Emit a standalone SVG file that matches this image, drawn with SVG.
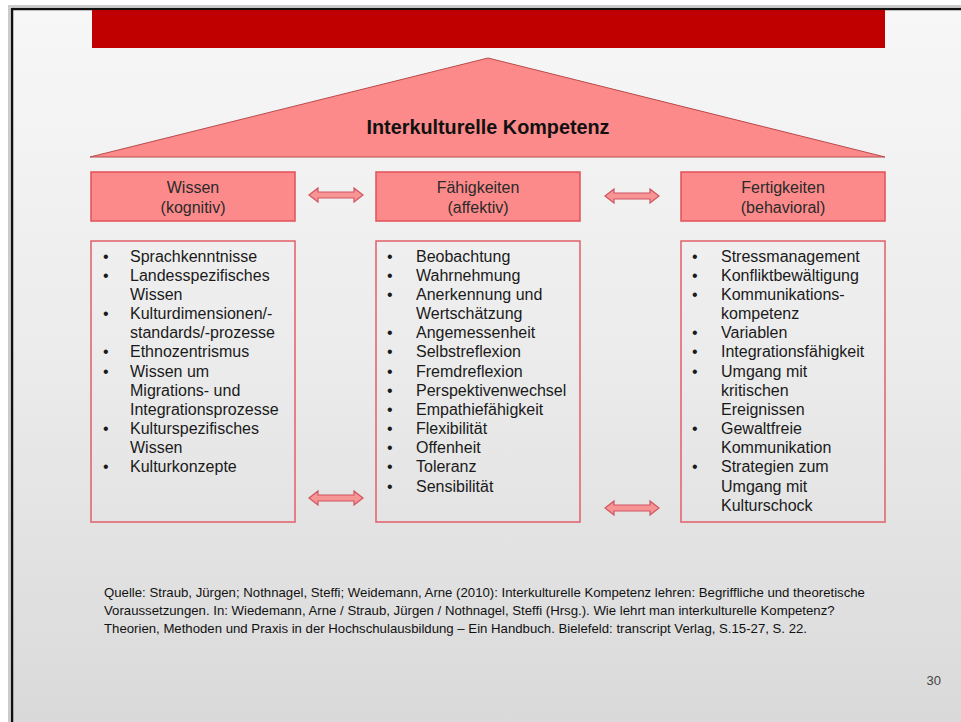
<svg xmlns="http://www.w3.org/2000/svg" width="961" height="722" viewBox="0 0 961 722">
<defs>
<linearGradient id="bg" x1="0" y1="0" x2="0" y2="1">
<stop offset="0" stop-color="#f7f7f7"/>
<stop offset="0.5" stop-color="#ebebeb"/>
<stop offset="1" stop-color="#d9d9d9"/>
</linearGradient>
<path id="dblarrow" d="M0,0 L9,-7 L9,-3 L45,-3 L45,-7 L54,0 L45,7 L45,3 L9,3 L9,7 Z"/>
</defs>
<style>
.head{fill:#fd8a8a;stroke:#e0505a;stroke-width:1.5}
.list{fill:none;stroke:#e06068;stroke-width:1.5}
.ht{font-family:"Liberation Sans",Arial,sans-serif;font-size:16px;fill:#2a2a2a;text-anchor:middle}
.lt{font-family:"Liberation Sans",Arial,sans-serif;font-size:16px;fill:#1a1a1a}
.src{font-family:"Liberation Sans",Arial,sans-serif;font-size:13.2px;fill:#111}
.arr{fill:#f79595;stroke:#d05560;stroke-width:1.2}
</style>
<rect x="0" y="0" width="961" height="722" fill="#ffffff"/>
<rect x="12" y="9" width="960" height="720" fill="url(#bg)"/>
<path d="M12,722 L12,9 L961,9" fill="none" stroke="#111" stroke-width="2.5"/>
<path d="M9,722 L9,6 L961,6" fill="none" stroke="#bbb" stroke-width="1.5"/>
<rect x="92" y="10" width="793" height="38" fill="#c00000"/>

<g id="roof">
<polygon points="488,58 885,157 90,157" fill="#fd8a8a" stroke="#b84a4a" stroke-width="1"/>
<text x="488" y="134" font-family="'Liberation Sans',Arial,sans-serif" font-size="20" font-weight="bold" fill="#111" text-anchor="middle" textLength="243" lengthAdjust="spacingAndGlyphs">Interkulturelle Kompetenz</text>
</g>

<g id="wissen-head">
<rect class="head" x="91" y="172" width="204" height="49"/>
<text class="ht" x="193" y="193">Wissen</text>
<text class="ht" x="193" y="213">(kognitiv)</text>
</g>
<g id="faehigkeiten-head">
<rect class="head" x="376" y="172" width="204" height="49"/>
<text class="ht" x="478" y="193">Fähigkeiten</text>
<text class="ht" x="478" y="213">(affektiv)</text>
</g>
<g id="fertigkeiten-head">
<rect class="head" x="681" y="172" width="204" height="49"/>
<text class="ht" x="783" y="193">Fertigkeiten</text>
<text class="ht" x="783" y="213">(behavioral)</text>
</g>

<g id="wissen-list">
<rect class="list" x="91" y="241" width="204" height="281"/>
<text class="lt">
<tspan x="103" y="262">•</tspan><tspan x="130" y="262">Sprachkenntnisse</tspan>
<tspan x="103" y="281">•</tspan><tspan x="130" y="281">Landesspezifisches</tspan>
<tspan x="130" y="300">Wissen</tspan>
<tspan x="103" y="319">•</tspan><tspan x="130" y="319">Kulturdimensionen/-</tspan>
<tspan x="130" y="338">standards/-prozesse</tspan>
<tspan x="103" y="357">•</tspan><tspan x="130" y="357">Ethnozentrismus</tspan>
<tspan x="103" y="377">•</tspan><tspan x="130" y="377">Wissen um</tspan>
<tspan x="130" y="396">Migrations- und</tspan>
<tspan x="130" y="415">Integrationsprozesse</tspan>
<tspan x="103" y="434">•</tspan><tspan x="130" y="434">Kulturspezifisches</tspan>
<tspan x="130" y="453">Wissen</tspan>
<tspan x="103" y="472">•</tspan><tspan x="130" y="472">Kulturkonzepte</tspan>
</text>
</g>
<g id="faehigkeiten-list">
<rect class="list" x="376" y="241" width="204" height="281"/>
<text class="lt">
<tspan x="387" y="262">•</tspan><tspan x="416" y="262">Beobachtung</tspan>
<tspan x="387" y="281">•</tspan><tspan x="416" y="281">Wahrnehmung</tspan>
<tspan x="387" y="300">•</tspan><tspan x="416" y="300">Anerkennung und</tspan>
<tspan x="416" y="319">Wertschätzung</tspan>
<tspan x="387" y="338">•</tspan><tspan x="416" y="338">Angemessenheit</tspan>
<tspan x="387" y="357">•</tspan><tspan x="416" y="357">Selbstreflexion</tspan>
<tspan x="387" y="377">•</tspan><tspan x="416" y="377">Fremdreflexion</tspan>
<tspan x="387" y="396">•</tspan><tspan x="416" y="396">Perspektivenwechsel</tspan>
<tspan x="387" y="415">•</tspan><tspan x="416" y="415">Empathiefähigkeit</tspan>
<tspan x="387" y="434">•</tspan><tspan x="416" y="434">Flexibilität</tspan>
<tspan x="387" y="453">•</tspan><tspan x="416" y="453">Offenheit</tspan>
<tspan x="387" y="472">•</tspan><tspan x="416" y="472">Toleranz</tspan>
<tspan x="387" y="492">•</tspan><tspan x="416" y="492">Sensibilität</tspan>
</text>
</g>
<g id="fertigkeiten-list">
<rect class="list" x="681" y="241" width="204" height="281"/>
<text class="lt">
<tspan x="692" y="262">•</tspan><tspan x="721" y="262">Stressmanagement</tspan>
<tspan x="692" y="281">•</tspan><tspan x="721" y="281">Konfliktbewältigung</tspan>
<tspan x="692" y="300">•</tspan><tspan x="721" y="300">Kommunikations-</tspan>
<tspan x="721" y="319">kompetenz</tspan>
<tspan x="692" y="338">•</tspan><tspan x="721" y="338">Variablen</tspan>
<tspan x="692" y="357">•</tspan><tspan x="721" y="357">Integrationsfähigkeit</tspan>
<tspan x="692" y="377">•</tspan><tspan x="721" y="377">Umgang mit</tspan>
<tspan x="721" y="396">kritischen</tspan>
<tspan x="721" y="415">Ereignissen</tspan>
<tspan x="692" y="434">•</tspan><tspan x="721" y="434">Gewaltfreie</tspan>
<tspan x="721" y="453">Kommunikation</tspan>
<tspan x="692" y="472">•</tspan><tspan x="721" y="472">Strategien zum</tspan>
<tspan x="721" y="492">Umgang mit</tspan>
<tspan x="721" y="511">Kulturschock</tspan>
</text>
</g>

<g id="connectors">
<use href="#dblarrow" class="arr" x="309" y="195"/>
<use href="#dblarrow" class="arr" x="605" y="196"/>
<use href="#dblarrow" class="arr" x="309" y="498"/>
<use href="#dblarrow" class="arr" x="605" y="508"/>
</g>

<g id="source">
<text class="src" x="104" y="597">Quelle: Straub, Jürgen; Nothnagel, Steffi; Weidemann, Arne (2010): Interkulturelle Kompetenz lehren: Begriffliche und theoretische</text>
<text class="src" x="104" y="615">Voraussetzungen. In: Wiedemann, Arne / Straub, Jürgen / Nothnagel, Steffi (Hrsg.). Wie lehrt man interkulturelle Kompetenz?</text>
<text class="src" x="104" y="633">Theorien, Methoden und Praxis in der Hochschulausbildung – Ein Handbuch. Bielefeld: transcript Verlag, S.15-27, S. 22.</text>
</g>
<text x="941" y="685" font-family="'Liberation Sans',Arial,sans-serif" font-size="13" fill="#444" text-anchor="end">30</text>
</svg>
